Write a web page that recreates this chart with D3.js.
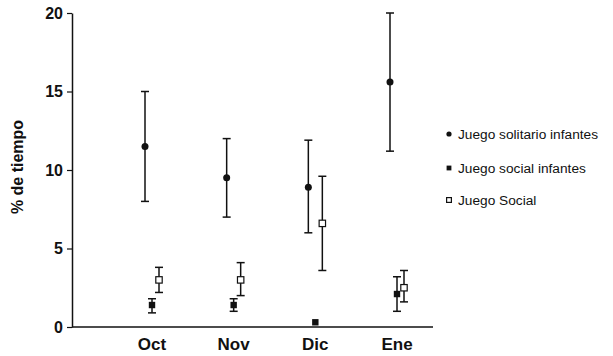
<!DOCTYPE html>
<html>
<head>
<meta charset="utf-8">
<script src="https://cdn.jsdelivr.net/npm/d3@7"></script>
<style>
  body { margin: 0; background: #fff; }
  svg { font-family: Arial, "Liberation Sans", sans-serif; }
</style>
</head>
<body>
<div id="chart"></div>
<script>
// months on the x axis
const months = ["Oct", "Nov", "Dic", "Ene"];

// Juego solitario infantes (filled circle)
const solitarioMean = [11.5, 9.5, 8.9, 15.6];
const solitarioLow = [8.0, 7.0, 6.0, 11.2];
const solitarioHigh = [15.0, 12.0, 11.9, 20.0];

// Juego social infantes (filled square)
const socialInfMean = [1.4, 1.4, 0.3, 2.1];
const socialInfLow = [0.9, 1.0, null, 1.0];
const socialInfHigh = [1.8, 1.8, null, 3.2];

// Juego Social (open square)
const socialMean = [3.0, 3.0, 6.6, 2.5];
const socialLow = [2.2, 2.0, 3.6, 1.6];
const socialHigh = [3.8, 4.1, 9.6, 3.6];

const yTicks = [0, 5, 10, 15, 20];

const series = [
  { name: "Juego solitario infantes", shape: "circle", mean: solitarioMean, low: solitarioLow, high: solitarioHigh, dx: -7 },
  { name: "Juego social infantes", shape: "square", mean: socialInfMean, low: socialInfLow, high: socialInfHigh, dx: 0 },
  { name: "Juego Social", shape: "open", mean: socialMean, low: socialLow, high: socialHigh, dx: 7 },
];

const width = 613;
const height = 356;
const axisLeft = 72;
const axisRight = 433;

const x = d3.scalePoint(months, [152, 397]);
const y = d3.scaleLinear([0, 20], [327, 13]);

const svg = d3
  .select("#chart")
  .append("svg")
  .attr("width", width)
  .attr("height", height);

// y axis
const yAxis = svg
  .append("g")
  .attr("transform", `translate(${axisLeft},0)`)
  .call(d3.axisLeft(y).tickValues(yTicks).tickSize(5).tickSizeOuter(0).tickPadding(4));
yAxis.select(".domain").attr("stroke", "#111").attr("stroke-width", 1.5);
yAxis.selectAll(".tick line").attr("stroke", "#111").attr("stroke-width", 1.2);
yAxis
  .selectAll(".tick text")
  .attr("font-size", 16)
  .attr("font-weight", "bold")
  .attr("fill", "#111");

// x baseline
svg
  .append("line")
  .attr("x1", axisLeft)
  .attr("x2", axisRight)
  .attr("y1", y(0))
  .attr("y2", y(0))
  .attr("stroke", "#111")
  .attr("stroke-width", 1.5);

// month labels
svg
  .append("g")
  .selectAll("text")
  .data(months)
  .join("text")
  .attr("x", (d) => x(d))
  .attr("y", 350)
  .attr("text-anchor", "middle")
  .attr("font-size", 17)
  .attr("font-weight", "bold")
  .attr("fill", "#111")
  .text((d) => d);

// y label
svg
  .append("text")
  .attr("transform", "translate(23,167) rotate(-90)")
  .attr("text-anchor", "middle")
  .attr("font-size", 16)
  .attr("font-weight", "bold")
  .attr("fill", "#111")
  .text("% de tiempo");

function drawMarker(g, shape, cx, cy, r) {
  if (shape === "circle") {
    g.append("circle").attr("cx", cx).attr("cy", cy).attr("r", r).attr("fill", "#111");
  } else if (shape === "square") {
    g.append("rect")
      .attr("x", cx - r).attr("y", cy - r)
      .attr("width", r * 2).attr("height", r * 2)
      .attr("fill", "#111");
  } else {
    g.append("rect")
      .attr("x", cx - r).attr("y", cy - r)
      .attr("width", r * 2).attr("height", r * 2)
      .attr("fill", "#fff")
      .attr("stroke", "#111")
      .attr("stroke-width", 1.2);
  }
}

// error bars + points
series.forEach((s) => {
  const g = svg.append("g");
  months.forEach((m, i) => {
    const cx = x(m) + s.dx;
    if (s.low[i] != null) {
      const cap = 4;
      g.append("line")
        .attr("x1", cx).attr("x2", cx)
        .attr("y1", y(s.low[i])).attr("y2", y(s.high[i]))
        .attr("stroke", "#111").attr("stroke-width", 1.5);
      [s.low[i], s.high[i]].forEach((v) => {
        g.append("line")
          .attr("x1", cx - cap).attr("x2", cx + cap)
          .attr("y1", y(v)).attr("y2", y(v))
          .attr("stroke", "#111").attr("stroke-width", 1.5);
      });
    }
    drawMarker(g, s.shape, cx, y(s.mean[i]), s.shape === "circle" ? 3.5 : 3.2);
  });
});

// legend
const legend = svg
  .append("g")
  .selectAll("g")
  .data(series)
  .join("g")
  .attr("transform", (d, i) => `translate(449,${[134, 168, 200][i]})`);
legend.each(function (d) {
  drawMarker(d3.select(this), d.shape, 0, 0, d.shape === "circle" ? 2.6 : 2.4);
});
legend
  .append("text")
  .attr("x", 9)
  .attr("y", 0)
  .attr("dy", "0.35em")
  .attr("font-size", 13.7)
  .attr("fill", "#111")
  .text((d) => d.name);
</script>
</body>
</html>
